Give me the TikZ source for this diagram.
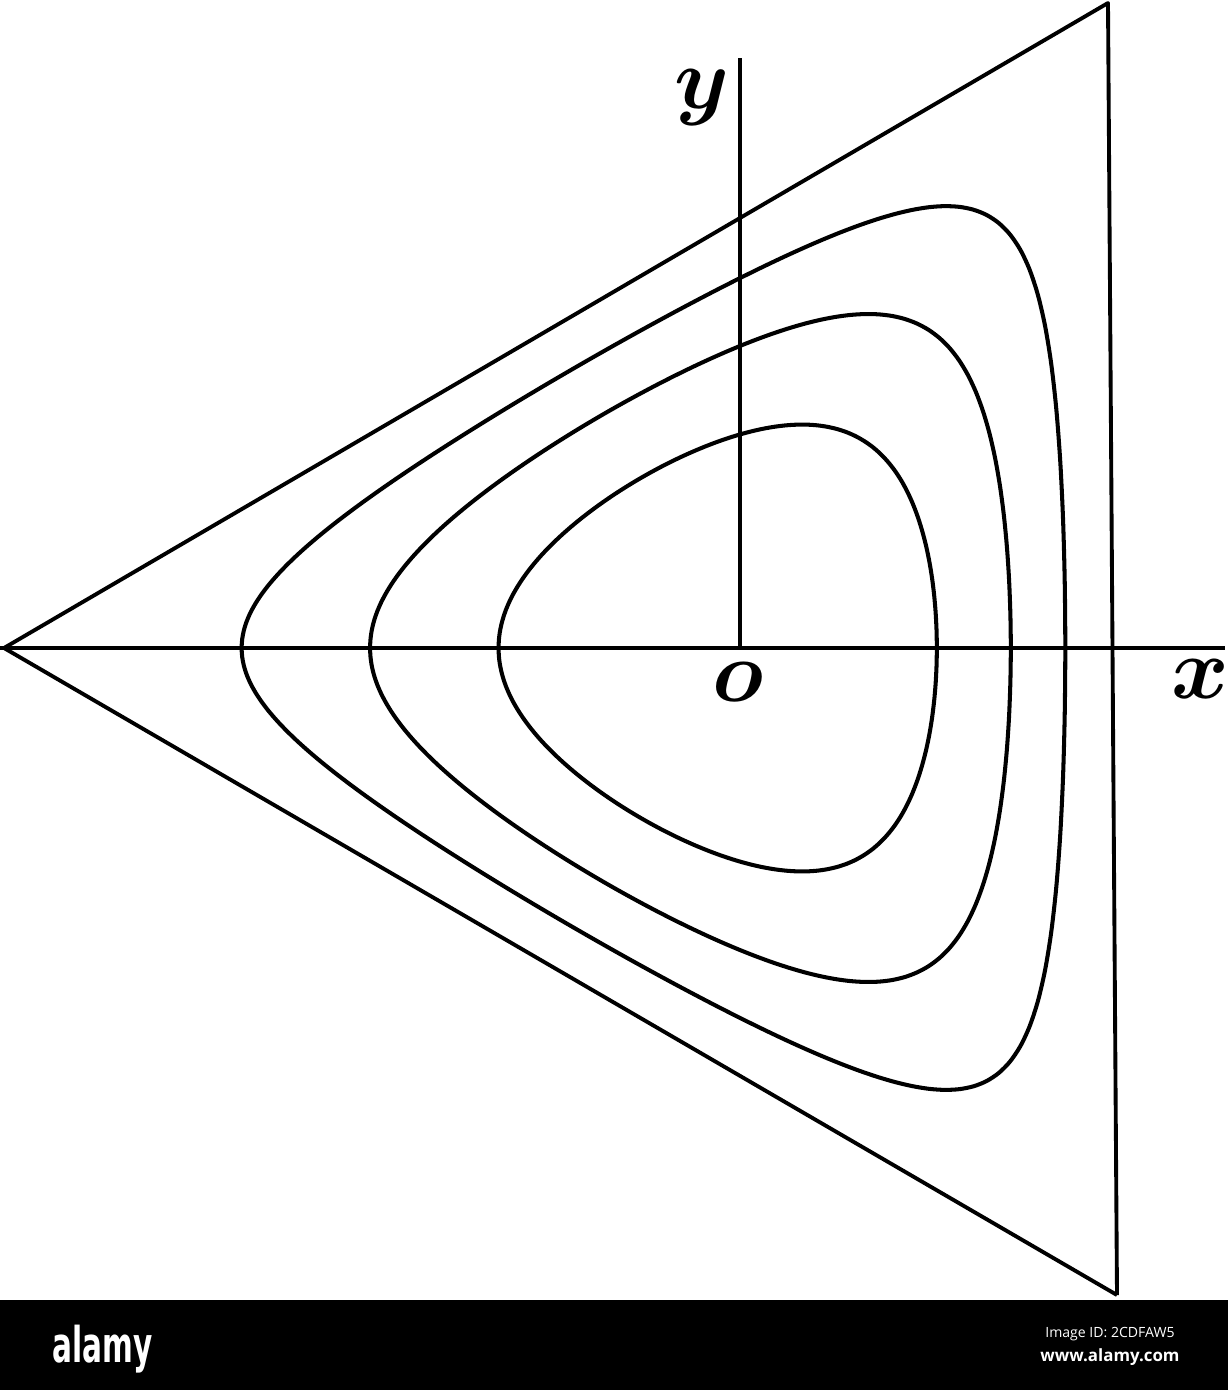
\documentclass[tikz,border=0pt]{standalone}
\usepackage{fontspec}
\usepackage{bm}
\newfontfamily\logofont[FakeStretch=0.6]{DejaVu Sans}
\newfontfamily\tagfont{Open Sans}
\usetikzlibrary{positioning}

\begin{document}
\begin{tikzpicture}[x=0.01cm, y=-0.01cm,
    side/.style={line width=1.1pt, line join=round},
    axisline/.style={line width=1.1pt},
    levelcurve/.style={line width=1.15pt},
    axislabel/.style={font=\fontsize{23}{27}\selectfont, inner sep=0pt},
    wmtext/.style={text=white, inner sep=0pt},
    declare function={xpos(\t,\a,\b)=(\a+\b)/2-(\b-\a)/2*cos(\t);}
    ]
    \useasboundingbox (0,0) rectangle (1228,1390);
    \fill[white] (0,0) rectangle (1228,1300);

    % corners of the section
    \coordinate (apex) at (4,648);
    \coordinate (top) at (1108,3);
    \coordinate (bottom) at (1117,1295);
    \coordinate (origin) at (740,648);

    % axes
    \draw[axisline] (0,648) -- (1225,648);
    \draw[axisline] (740,58) -- (origin);

    % the triangle
    \draw[side] (bottom) -- (apex) -- (top) -- (bottom);

    % level curves of (1-x)((x+2)^2-3y^2) = c, c = 1,2,3
    \begin{scope}[shift={(origin)}, x=3.697cm, y=3.697cm]
        \foreach \lev/\xa/\xb in {1/-1.3473/0.8794, 2/-1/0.7321, 3/-0.6527/0.5321} {
            \draw[levelcurve] plot[domain=0:357, samples=120, smooth cycle, variable=\t]
            ({xpos(\t,\xa,\xb)},
             {sign(sin(\t))*sqrt(max(0,((xpos(\t,\xa,\xb)+2)^2-\lev/(1-xpos(\t,\xa,\xb)))/3))});
        }
    \end{scope}

    \node[axislabel] (ylabel) at (702,98) {$\bm{y}$};
    \node[axislabel] (olabel) at (738,682) {$\bm{o}$};
    \node[axislabel] (xlabel) at (1200,679) {$\bm{x}$};

    % watermark band
    \fill[black] (0,1300) rectangle (1228,1390);
    \node[wmtext, anchor=base west, font=\logofont\bfseries\fontsize{14}{16}\selectfont] (logo) at (52,1362) {alamy};
    \node[wmtext, anchor=base, font=\tagfont\fontsize{4}{5}\selectfont] (imageid) at (1110,1337) {Image ID: 2CDFAW5};
    \node[wmtext, anchor=base, font=\tagfont\bfseries\fontsize{4.8}{6}\selectfont] (site) at (1110,1361) {www.alamy.com};
\end{tikzpicture}
\end{document}
